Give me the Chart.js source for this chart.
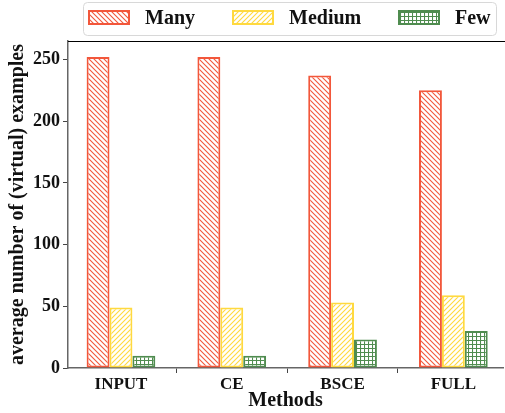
<!DOCTYPE html>
<html><head><meta charset="utf-8">
<script src="https://cdn.jsdelivr.net/npm/chart.js@4"></script>
<style>html,body{margin:0;padding:0;background:#fff}#wrap{width:505px;height:413px}</style>
</head><body><div id="wrap"><canvas id="c" width="505" height="413"></canvas></div>
<script>
const categories = ['INPUT', 'CE', 'BSCE', 'FULL'];
const seriesNames = ['Many', 'Medium', 'Few'];
const many = [252, 252, 237, 225];
const medium = [49, 49, 53, 59];
const few = [10, 10, 23, 30];
const yTicks = [0, 50, 100, 150, 200, 250];

const colors = ['#F2573B', '#FFD93F', '#4F8C4F'];
const FONT = '"Liberation Serif", "DejaVu Serif", serif';

function makePattern(type, color) {
  const s = type === 'grid' ? 4 : 5;
  const c = document.createElement('canvas');
  c.width = s; c.height = s;
  const g = c.getContext('2d');
  g.fillStyle = '#fff'; g.fillRect(0, 0, s, s);
  g.strokeStyle = color; g.lineWidth = 1.1;
  g.beginPath();
  if (type === 'back') {
    g.moveTo(-1, -1); g.lineTo(s + 1, s + 1);
    g.moveTo(-1, s - 1); g.lineTo(1, s + 1);
    g.moveTo(s - 1, -1); g.lineTo(s + 1, 1);
  } else if (type === 'fwd') {
    g.moveTo(-1, s + 1); g.lineTo(s + 1, -1);
    g.moveTo(-1, 1); g.lineTo(1, -1);
    g.moveTo(s - 1, s + 1); g.lineTo(s + 1, s - 1);
  } else {
    g.moveTo(0, 0.5); g.lineTo(s, 0.5);
    g.moveTo(0.5, 0); g.lineTo(0.5, s);
  }
  g.stroke();
  return g.createPattern(c, 'repeat');
}
const ctx0 = document.getElementById('c').getContext('2d');
const patterns = [makePattern('back', colors[0]), makePattern('fwd', colors[1]), makePattern('grid', colors[2])];

const values = [many, medium, few];
const datasets = seriesNames.map((n, i) => ({
  label: n, data: values[i].map((v, k) => ({ x: k, y: v })), backgroundColor: patterns[i], borderColor: colors[i],
  borderWidth: 2, borderSkipped: false, categoryPercentage: 0.62, barPercentage: 1.0
}));

const customLegend = {
  id: 'customLegend',
  afterDraw(chart) {
    const g = chart.ctx;
    g.save();
    g.strokeStyle = '#d8d8d8'; g.lineWidth = 1;
    const x0 = 83.5, y0 = 2.5, w = 413, h = 33, r = 4;
    g.beginPath();
    g.moveTo(x0 + r, y0); g.lineTo(x0 + w - r, y0); g.quadraticCurveTo(x0 + w, y0, x0 + w, y0 + r);
    g.lineTo(x0 + w, y0 + h - r); g.quadraticCurveTo(x0 + w, y0 + h, x0 + w - r, y0 + h);
    g.lineTo(x0 + r, y0 + h); g.quadraticCurveTo(x0, y0 + h, x0, y0 + h - r);
    g.lineTo(x0, y0 + r); g.quadraticCurveTo(x0, y0, x0 + r, y0);
    g.stroke();
    const patchX = [89, 233, 399];
    const textX = [145, 289, 455];
    g.font = 'bold 20px ' + FONT;
    g.textBaseline = 'middle';
    chart.data.datasets.forEach((ds, i) => {
      g.fillStyle = ds.backgroundColor;
      g.fillRect(patchX[i], 11, 40, 13);
      g.strokeStyle = ds.borderColor; g.lineWidth = 2;
      g.strokeRect(patchX[i], 11, 40, 13);
      g.fillStyle = '#111';
      g.fillText(ds.label, textX[i], 19);
    });
    const a = chart.chartArea;
    g.strokeStyle = '#000'; g.lineWidth = 1.2;
    g.beginPath(); g.moveTo(a.left, a.top + 0.5); g.lineTo(a.right + 2, a.top + 0.5); g.stroke();
    g.restore();
  }
};

new Chart(ctx0, {
  type: 'bar',
  data: { datasets },
  options: {
    responsive: false, animation: false,
    layout: { padding: { top: 41, right: 2, left: 0, bottom: 0 } },
    plugins: { legend: { display: false }, tooltip: { enabled: false } },
    scales: {
      x: {
        type: 'linear', min: -0.478, max: 3.448, offset: false,
        afterBuildTicks(s) { s.ticks = categories.map((c, k) => ({ value: k })); },
        grid: { display: true, drawOnChartArea: false, drawTicks: true, tickLength: 5, color: '#444', lineWidth: 1 },
        border: { display: true, color: '#666', width: 1.5 },
        ticks: { color: '#111', font: { family: FONT, size: 17, weight: 'bold' }, padding: 1,
                 callback: (v) => categories[v] },
        title: { display: true, text: 'Methods', color: '#111', font: { family: FONT, size: 20, weight: 'bold' }, padding: { top: -5, bottom: 0 } },
        afterFit(s) { s.height = 45; }
      },
      y: {
        min: 0, max: 265,
        afterBuildTicks(s) { s.ticks = yTicks.map(v => ({ value: v })); },
        grid: { display: true, drawOnChartArea: false, drawTicks: true, tickLength: 5, color: '#444', lineWidth: 1 },
        border: { display: true, color: '#666', width: 1.5 },
        ticks: { color: '#111', font: { family: FONT, size: 18, weight: 'bold' }, padding: 3 },
        title: { display: true, text: 'average number of (virtual) examples', color: '#111', font: { family: FONT, size: 20, weight: 'bold' }, padding: { top: 6, bottom: 2 } },
        afterFit(s) { s.width = 68; }
      }
    }
  },
  plugins: [customLegend]
});
</script></body></html>
